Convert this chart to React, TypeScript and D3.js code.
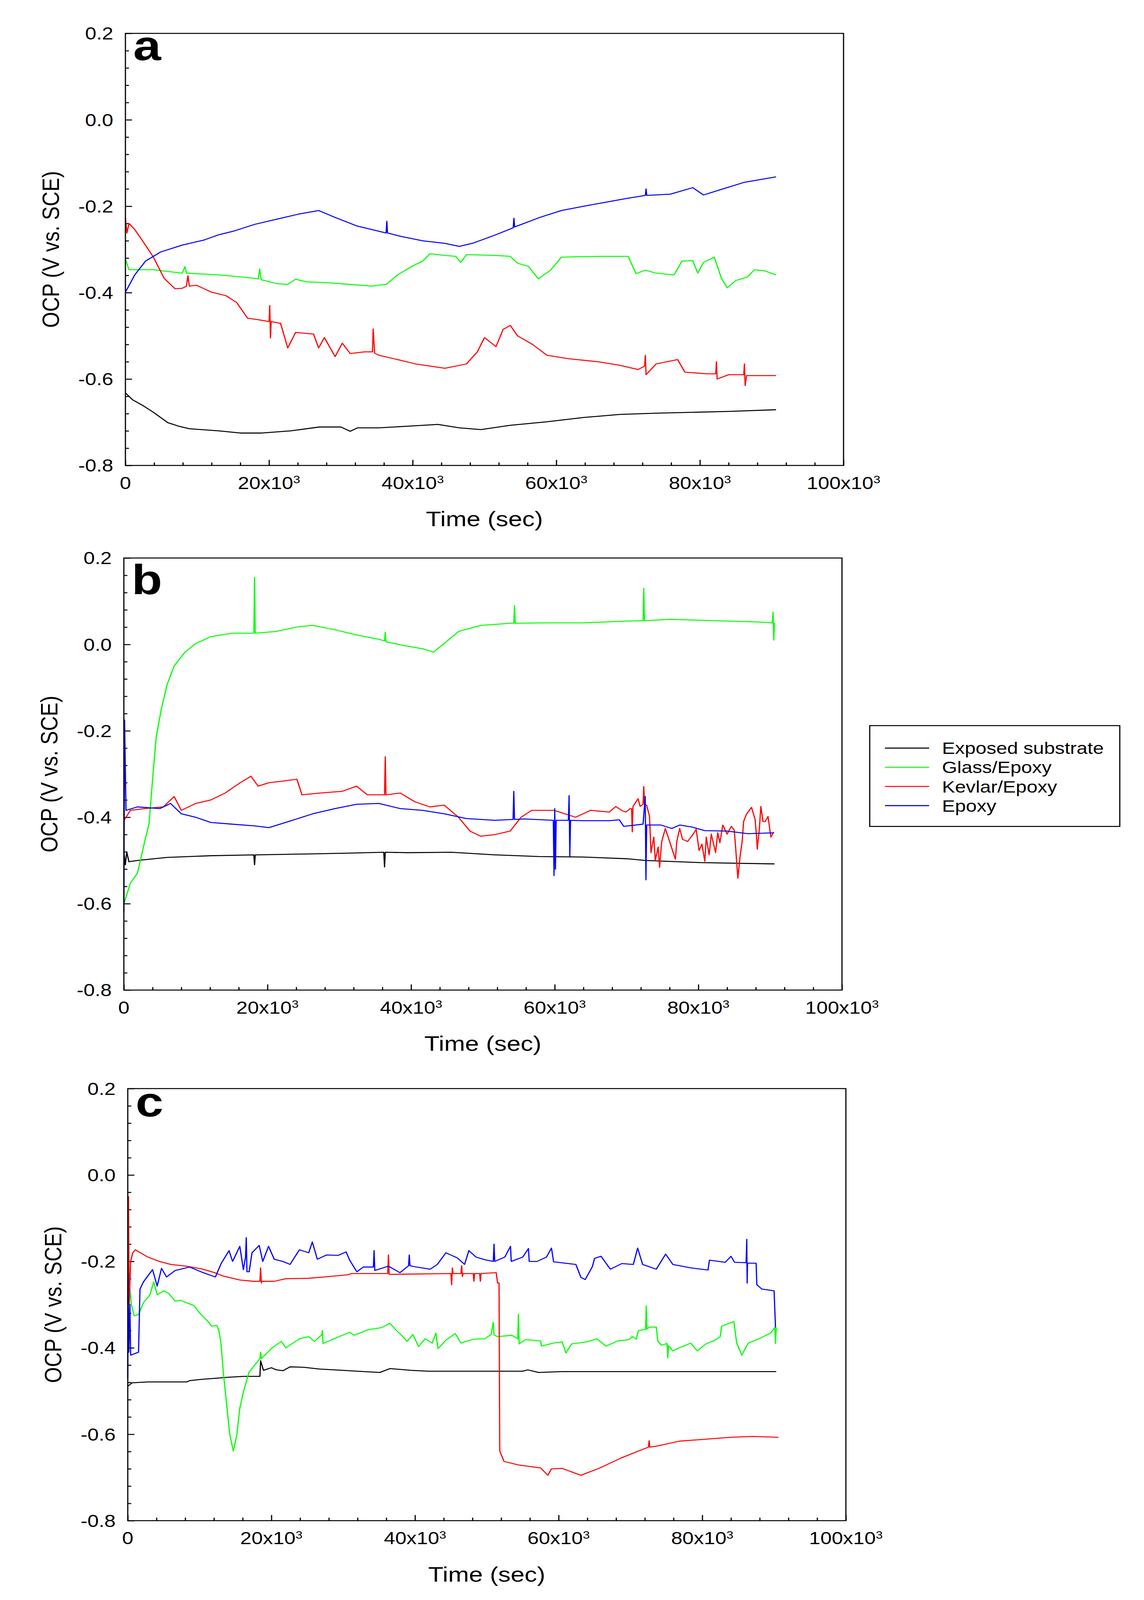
import * as React from 'react';
import * as d3 from 'd3';

type Pt = [number, number];

// time in 10^3 s, OCP in V vs. SCE
const legendLabels = ['Exposed substrate', 'Glass/Epoxy', 'Kevlar/Epoxy', 'Epoxy'];
const seriesColors = ['#000000', '#00ff00', '#ff0000', '#0000ff'];
const yMajorTicks = [0.2, 0, -0.2, -0.4, -0.6, -0.8];
const yTickLabels = ['0.2', '0.0', '-0.2', '-0.4', '-0.6', '-0.8'];
const xMajorTicks = [0, 20, 40, 60, 80, 100];

// panel a
const aExposed: Pt[] = [[0, -0.632], [1, -0.648], [2.5, -0.662], [3.9, -0.677], [5.9, -0.701], [7.4, -0.709], [8.9, -0.715], [13, -0.72], [16, -0.725], [19, -0.725], [23, -0.72], [27, -0.711], [30, -0.711], [31.3, -0.721], [32.3, -0.713], [35.3, -0.713], [39.4, -0.709], [43.5, -0.705], [46.5, -0.713], [49.5, -0.717], [53.6, -0.707], [58.7, -0.699], [63.8, -0.689], [68.8, -0.682], [73.9, -0.679], [79, -0.677], [84, -0.675], [90.6, -0.671]];
const aGlass: Pt[] = [[0, -0.323], [0.5, -0.347], [3.9, -0.347], [7.9, -0.355], [8.3, -0.34], [8.5, -0.355], [13, -0.359], [17, -0.365], [18.5, -0.368], [18.7, -0.345], [18.9, -0.37], [19.6, -0.373], [21, -0.379], [22.6, -0.381], [23.7, -0.369], [25.2, -0.375], [28.2, -0.377], [31.3, -0.381], [34.3, -0.385], [36.3, -0.381], [37.9, -0.359], [39.9, -0.339], [41.4, -0.327], [42.4, -0.31], [44.5, -0.314], [46, -0.316], [46.7, -0.33], [47.5, -0.312], [51.6, -0.314], [53.6, -0.316], [54.6, -0.332], [56.1, -0.339], [57.5, -0.368], [59.2, -0.348], [60.7, -0.318], [62.7, -0.317], [66.8, -0.316], [70, -0.316], [71.1, -0.356], [72.4, -0.348], [73.9, -0.355], [76.4, -0.359], [77.5, -0.327], [79, -0.326], [79.7, -0.355], [80.5, -0.33], [82, -0.318], [83, -0.367], [83.8, -0.389], [85, -0.372], [86.6, -0.364], [87.6, -0.347], [89.1, -0.35], [90.6, -0.359]];
const aKevlar: Pt[] = [[0, -0.226], [0.2, -0.262], [0.5, -0.24], [1.3, -0.254], [2.3, -0.278], [3.9, -0.318], [5.4, -0.367], [6.9, -0.391], [7.9, -0.39], [8.5, -0.385], [8.7, -0.361], [8.9, -0.385], [9.9, -0.383], [12, -0.399], [14, -0.407], [15.5, -0.423], [17, -0.459], [18.6, -0.463], [20, -0.467], [20.1, -0.43], [20.2, -0.505], [20.3, -0.467], [21.6, -0.471], [22.6, -0.528], [23.7, -0.492], [26.2, -0.496], [26.9, -0.528], [27.7, -0.504], [29.2, -0.548], [30.2, -0.517], [31.3, -0.541], [33.3, -0.537], [34.4, -0.537], [34.5, -0.484], [34.7, -0.54], [35.3, -0.545], [37.4, -0.553], [40.4, -0.565], [44.5, -0.575], [47.5, -0.565], [49, -0.537], [50, -0.504], [51.6, -0.525], [52.6, -0.485], [53.6, -0.476], [54.6, -0.5], [56.7, -0.52], [58.7, -0.545], [61.7, -0.553], [65.8, -0.56], [68.8, -0.568], [71.4, -0.578], [72.3, -0.57], [72.4, -0.545], [72.5, -0.59], [73.9, -0.565], [76.9, -0.555], [77.9, -0.584], [81, -0.588], [82.2, -0.588], [82.3, -0.56], [82.4, -0.6], [84, -0.59], [86.1, -0.59], [86.2, -0.565], [86.3, -0.615], [86.5, -0.592], [90.6, -0.592]];
const aEpoxy: Pt[] = [[0, -0.399], [1.3, -0.359], [2.8, -0.327], [4.9, -0.306], [7.9, -0.29], [11, -0.278], [13, -0.266], [15, -0.258], [18, -0.242], [21.1, -0.23], [24.2, -0.218], [26.9, -0.21], [29.2, -0.226], [32.3, -0.246], [35.3, -0.258], [36.3, -0.262], [36.4, -0.235], [36.5, -0.262], [38.4, -0.27], [41.4, -0.28], [44.5, -0.286], [46.5, -0.293], [48.5, -0.285], [51.6, -0.266], [54, -0.25], [54.1, -0.228], [54.2, -0.248], [57.7, -0.226], [60.7, -0.21], [63.8, -0.2], [66.8, -0.191], [69.8, -0.182], [72.4, -0.175], [72.5, -0.16], [72.6, -0.175], [75.9, -0.172], [79, -0.157], [80.5, -0.174], [83, -0.161], [86.1, -0.145], [90.6, -0.132]];

// panel b
const bExposed: Pt[] = [[0, -0.48], [0.2, -0.51], [0.4, -0.48], [0.7, -0.503], [1.9, -0.5], [6, -0.493], [12.1, -0.489], [18.1, -0.487], [18.2, -0.51], [18.3, -0.487], [25.3, -0.485], [31.4, -0.483], [36.2, -0.481], [36.3, -0.515], [36.4, -0.481], [39.5, -0.482], [45.6, -0.481], [51.7, -0.487], [57.8, -0.491], [63.9, -0.492], [70, -0.496], [72.6, -0.5], [80.3, -0.505], [90.6, -0.508]];
const bGlass: Pt[] = [[0, -0.601], [0.9, -0.553], [1.9, -0.529], [2.9, -0.456], [3.5, -0.416], [4, -0.312], [4.5, -0.215], [5.2, -0.151], [6, -0.094], [7, -0.05], [8.5, -0.018], [10, 0.002], [12.1, 0.018], [15.1, 0.026], [18.1, 0.026], [18.2, 0.155], [18.3, 0.026], [21.2, 0.03], [24.3, 0.041], [26.3, 0.044], [29.4, 0.034], [32.4, 0.022], [35.5, 0.012], [36.3, 0.008], [36.4, 0.028], [36.5, 0.006], [39.5, -0.004], [41.6, -0.01], [43.1, -0.018], [44.6, 0.002], [46.6, 0.03], [49.7, 0.044], [53.8, 0.049], [54.3, 0.049], [54.4, 0.09], [54.5, 0.049], [58.8, 0.05], [63.9, 0.05], [70, 0.054], [72.3, 0.055], [72.4, 0.13], [72.5, 0.055], [76.1, 0.058], [80.2, 0.056], [84.2, 0.054], [88.3, 0.052], [90.3, 0.05], [90.4, 0.075], [90.5, 0.01], [90.6, 0.05]];
const bKevlar: Pt[] = [[0, -0.408], [0.9, -0.384], [2.9, -0.38], [5.5, -0.376], [7, -0.352], [8, -0.384], [10, -0.368], [12.1, -0.36], [14.1, -0.344], [16.2, -0.32], [17.7, -0.305], [18.7, -0.328], [20.2, -0.32], [22.3, -0.316], [24.1, -0.312], [24.8, -0.348], [27.3, -0.344], [30.4, -0.34], [32.4, -0.328], [33.9, -0.348], [36.3, -0.348], [36.4, -0.26], [36.5, -0.348], [38.5, -0.344], [40.5, -0.364], [42.6, -0.376], [44.6, -0.372], [46.6, -0.4], [48.2, -0.432], [49.7, -0.444], [51.7, -0.44], [53.8, -0.432], [55.3, -0.4], [56.8, -0.384], [59.9, -0.384], [62.9, -0.4], [65, -0.384], [67.6, -0.388], [68.5, -0.375], [69.4, -0.385], [69.9, -0.388], [70.5, -0.38], [70.7, -0.38], [70.8, -0.434], [70.9, -0.375], [71.6, -0.357], [71.9, -0.375], [72.3, -0.37], [72.4, -0.329], [72.5, -0.37], [72.8, -0.372], [73.2, -0.398], [73.4, -0.482], [73.8, -0.446], [74, -0.5], [74.4, -0.469], [74.6, -0.516], [74.9, -0.456], [75.4, -0.426], [75.9, -0.451], [76.5, -0.482], [76.8, -0.497], [77, -0.456], [77.4, -0.426], [77.8, -0.451], [78.5, -0.456], [79.2, -0.441], [79.7, -0.428], [80.1, -0.477], [80.5, -0.462], [80.9, -0.502], [81.1, -0.446], [81.5, -0.487], [81.8, -0.439], [82.4, -0.482], [82.7, -0.436], [83, -0.459], [83.4, -0.418], [84, -0.439], [84.6, -0.421], [85, -0.43], [85.2, -0.472], [85.5, -0.541], [85.8, -0.492], [86.1, -0.456], [86.3, -0.41], [86.7, -0.393], [87.4, -0.377], [87.9, -0.405], [88.1, -0.444], [88.2, -0.474], [88.5, -0.426], [88.7, -0.375], [89, -0.41], [89.3, -0.41], [89.7, -0.398], [90.1, -0.446], [90.5, -0.434]];
const bEpoxy: Pt[] = [[0, -0.62], [0.1, -0.175], [0.3, -0.384], [1.9, -0.376], [5, -0.38], [6.5, -0.368], [8, -0.392], [10, -0.4], [12.1, -0.412], [15.1, -0.416], [18.2, -0.42], [20.2, -0.424], [23.3, -0.408], [26.3, -0.392], [29.4, -0.38], [32.4, -0.37], [35.5, -0.368], [38.5, -0.38], [41.6, -0.384], [44.6, -0.392], [47.7, -0.403], [51.7, -0.407], [54.2, -0.405], [54.3, -0.34], [54.4, -0.405], [55.8, -0.404], [59.8, -0.407], [59.9, -0.535], [60, -0.38], [60.1, -0.52], [60.2, -0.407], [61.9, -0.407], [62, -0.35], [62.1, -0.49], [62.2, -0.407], [63.9, -0.408], [67.6, -0.408], [69, -0.406], [69.6, -0.421], [72.3, -0.416], [72.6, -0.352], [72.7, -0.545], [72.8, -0.418], [74.8, -0.418], [76.3, -0.426], [77.4, -0.418], [79.2, -0.423], [80.9, -0.431], [84, -0.432], [86.9, -0.438], [90.5, -0.436]];

// panel c
const cExposed: Pt[] = [[0, -0.489], [0.6, -0.481], [2.8, -0.479], [8.2, -0.479], [8.6, -0.476], [10.2, -0.473], [11.8, -0.471], [14, -0.468], [16.2, -0.466], [18.4, -0.466], [18.5, -0.43], [18.9, -0.452], [20, -0.446], [20.7, -0.451], [21.6, -0.453], [22.6, -0.444], [24.5, -0.445], [26.7, -0.449], [29.9, -0.452], [31.9, -0.454], [35.1, -0.457], [36.5, -0.448], [39.4, -0.452], [41.8, -0.454], [55, -0.454], [55.7, -0.451], [57.2, -0.457], [60.5, -0.455], [90.3, -0.455]];
const cGlass: Pt[] = [[0, -0.269], [0.1, -0.229], [0.5, -0.3], [0.9, -0.326], [1.5, -0.323], [2.2, -0.295], [3.1, -0.277], [3.6, -0.247], [4.1, -0.277], [5, -0.268], [5.7, -0.274], [6.6, -0.292], [7.4, -0.29], [8.4, -0.297], [9.2, -0.302], [10.2, -0.323], [11.1, -0.338], [11.7, -0.35], [12.4, -0.348], [12.7, -0.361], [13, -0.392], [13.3, -0.456], [13.7, -0.52], [14.2, -0.6], [14.7, -0.639], [15.2, -0.6], [15.6, -0.54], [16.1, -0.502], [16.9, -0.456], [18.4, -0.425], [18.5, -0.41], [18.6, -0.425], [20.1, -0.4], [21.4, -0.385], [22, -0.4], [23.9, -0.379], [25.2, -0.374], [26, -0.385], [27, -0.37], [27.1, -0.36], [27.2, -0.39], [29, -0.377], [30.9, -0.364], [31.5, -0.371], [33.5, -0.358], [35.4, -0.353], [36.5, -0.343], [37.3, -0.358], [38.3, -0.374], [38.9, -0.385], [39.7, -0.369], [40.5, -0.397], [41.4, -0.379], [42.4, -0.389], [42.9, -0.366], [43.2, -0.402], [44.3, -0.382], [45.6, -0.367], [46.4, -0.389], [48.1, -0.38], [49.7, -0.379], [50.6, -0.369], [50.9, -0.341], [51, -0.37], [51.5, -0.374], [53.5, -0.371], [54.3, -0.379], [54.4, -0.322], [54.5, -0.391], [55.4, -0.381], [57.5, -0.384], [57.6, -0.396], [59.3, -0.389], [60.5, -0.386], [61, -0.412], [61.8, -0.391], [64, -0.386], [65.3, -0.379], [66.6, -0.396], [68.2, -0.384], [69.8, -0.381], [70.3, -0.374], [70.8, -0.38], [71.1, -0.36], [72.1, -0.357], [72.2, -0.303], [72.3, -0.357], [72.6, -0.352], [73.6, -0.352], [73.8, -0.384], [74.3, -0.394], [75.1, -0.39], [75.2, -0.423], [75.3, -0.395], [75.9, -0.407], [76.8, -0.4], [78.4, -0.389], [79.3, -0.407], [80.6, -0.39], [81.6, -0.384], [82.5, -0.374], [82.7, -0.35], [84.4, -0.339], [84.8, -0.389], [85.5, -0.417], [86.4, -0.389], [87.9, -0.379], [89.5, -0.366], [90.1, -0.353], [90.2, -0.39], [90.3, -0.353]];
const cKevlar: Pt[] = [[0, -0.3], [0.1, -0.05], [0.2, -0.3], [0.4, -0.2], [0.7, -0.18], [1.05, -0.173], [2.8, -0.19], [4.4, -0.2], [6, -0.207], [8.2, -0.211], [10.2, -0.217], [12.1, -0.226], [13.3, -0.234], [15.6, -0.243], [17.5, -0.246], [18.4, -0.246], [18.5, -0.215], [18.6, -0.25], [18.7, -0.246], [20.4, -0.246], [22, -0.24], [25.2, -0.239], [27.4, -0.236], [30.6, -0.231], [31.2, -0.228], [36.2, -0.228], [36.3, -0.185], [36.4, -0.23], [45, -0.228], [45.1, -0.254], [45.2, -0.215], [45.3, -0.228], [46.4, -0.228], [46.5, -0.21], [46.6, -0.235], [46.7, -0.228], [48.1, -0.228], [48.2, -0.246], [48.3, -0.228], [49, -0.228], [49.1, -0.246], [49.2, -0.228], [51.3, -0.226], [51.5, -0.25], [51.7, -0.25], [51.8, -0.639], [52.4, -0.663], [54.4, -0.671], [57.5, -0.678], [58.5, -0.695], [59, -0.68], [60.5, -0.679], [63.1, -0.695], [65.6, -0.679], [68.7, -0.655], [71.7, -0.635], [72.5, -0.63], [72.6, -0.615], [72.7, -0.63], [73.8, -0.627], [76.8, -0.616], [80.9, -0.611], [83.9, -0.607], [87, -0.605], [90.6, -0.607]];
const cEpoxy: Pt[] = [[0, -0.47], [0.05, -0.23], [0.15, -0.41], [0.3, -0.3], [0.4, -0.417], [1.5, -0.41], [1.7, -0.264], [2.2, -0.247], [3.45, -0.219], [4.1, -0.257], [4.7, -0.216], [5.4, -0.236], [6.6, -0.221], [8.6, -0.213], [10.5, -0.226], [12.2, -0.236], [13, -0.205], [14.1, -0.175], [14.6, -0.2], [15.6, -0.165], [16.1, -0.219], [16.4, -0.19], [16.5, -0.145], [16.6, -0.224], [16.9, -0.224], [17.3, -0.18], [18.3, -0.163], [18.8, -0.2], [19.6, -0.165], [20.4, -0.195], [21.6, -0.2], [22.6, -0.207], [23.9, -0.173], [25.2, -0.18], [25.7, -0.155], [26.4, -0.195], [27.7, -0.185], [29.3, -0.186], [30.4, -0.178], [30.9, -0.197], [31.9, -0.224], [32.8, -0.213], [34.2, -0.213], [34.3, -0.175], [34.4, -0.221], [36.3, -0.211], [37.9, -0.226], [39.1, -0.21], [39.2, -0.185], [39.3, -0.21], [40.2, -0.213], [42.1, -0.218], [43.1, -0.207], [44.3, -0.18], [45.9, -0.192], [46.9, -0.207], [47.5, -0.175], [48.5, -0.19], [49.7, -0.196], [50.9, -0.2], [51, -0.16], [51.1, -0.2], [52.5, -0.19], [53.3, -0.165], [53.4, -0.2], [55, -0.19], [55.8, -0.17], [55.9, -0.2], [57, -0.2], [58.3, -0.19], [59, -0.169], [59.3, -0.201], [62.4, -0.207], [63.1, -0.237], [63.7, -0.242], [64.7, -0.212], [65, -0.193], [65.9, -0.188], [67.2, -0.218], [68.8, -0.205], [70.4, -0.207], [71, -0.169], [71.7, -0.207], [73.6, -0.218], [74.9, -0.183], [75.9, -0.207], [78.4, -0.215], [80.8, -0.22], [81, -0.197], [83.2, -0.202], [84, -0.188], [84.5, -0.202], [86.1, -0.203], [86.2, -0.149], [86.25, -0.25], [86.3, -0.204], [87.5, -0.204], [87.6, -0.254], [88.3, -0.264], [90, -0.268], [90.2, -0.353]];

const W = 2928;
const H = 4840;
const PLOT_W = 1838;
const PLOT_H = 1307;

const panels = [
  { letter: 'a', left: 321, top: 101, letterDy: 81, series: [aExposed, aGlass, aKevlar, aEpoxy] },
  { letter: 'b', left: 317, top: 1688, letterDy: 109, series: [bExposed, bGlass, bKevlar, bEpoxy] },
  { letter: 'c', left: 327, top: 3293, letterDy: 84, series: [cExposed, cGlass, cKevlar, cEpoxy] },
];

const FONT = 'Arial, "Liberation Sans", sans-serif';

export default function App() {
  const ref = React.useRef<SVGSVGElement>(null);

  React.useEffect(() => {
    document.body.style.margin = '0';
    document.body.style.overflow = 'hidden';
    const svg = d3.select(ref.current);
    svg.selectAll('*').remove();

    const x = d3.scaleLinear().domain([0, 100]).range([0, PLOT_W]);
    const y = d3.scaleLinear().domain([-0.8, 0.2]).range([PLOT_H, 0]);
    const xMinor = d3.range(0, 100.01, 4).filter(v => v % 20 !== 0);
    const yMinor = d3.range(-0.8, 0.2001, 0.04).filter(v => Math.abs(Math.round(v * 5) - v * 5) > 1e-6);

    const line = d3.line<Pt>().x(d => x(d[0])).y(d => y(d[1]));

    svg.append('rect').attr('width', W).attr('height', H).attr('fill', '#fff');

    panels.forEach(p => {
      const g = svg.append('g').attr('transform', `translate(${p.left},${p.top})`);

      // ticks pointing inward, labels drawn separately
      const addAxis = (axis: d3.Axis<d3.NumberValue>, tx: number, ty: number) => {
        const ag = g.append('g').attr('transform', `translate(${tx},${ty})`).call(axis);
        ag.select('.domain').remove();
        ag.selectAll('line').attr('stroke', '#000').attr('stroke-width', 3);
        ag.selectAll('text').remove();
      };
      addAxis(d3.axisBottom(x).tickValues(xMinor).tickSize(-9).tickFormat(() => ''), 0, PLOT_H);
      addAxis(d3.axisBottom(x).tickValues(xMajorTicks).tickSize(-17).tickFormat(() => ''), 0, PLOT_H);
      addAxis(d3.axisLeft(y).tickValues(yMinor).tickSize(-9).tickFormat(() => ''), 0, 0);
      addAxis(d3.axisLeft(y).tickValues(yMajorTicks).tickSize(-17).tickFormat(() => ''), 0, 0);

      p.series.forEach((s, i) => {
        g.append('path')
          .datum(s)
          .attr('d', line)
          .attr('fill', 'none')
          .attr('stroke', seriesColors[i])
          .attr('stroke-width', 3)
          .attr('stroke-linejoin', 'round');
      });

      g.append('rect')
        .attr('width', PLOT_W)
        .attr('height', PLOT_H)
        .attr('fill', 'none')
        .attr('stroke', '#000')
        .attr('stroke-width', 3);

      xMajorTicks.forEach(v => {
        const t = g.append('text')
          .attr('x', x(v))
          .attr('y', PLOT_H + 71)
          .attr('text-anchor', 'middle')
          .style('font-family', FONT)
          .style('font-size', '52px');
        if (v === 0) {
          t.text('0');
        } else {
          t.append('tspan').text(`${v}x10`);
          t.append('tspan').attr('dy', -17).style('font-size', '32px').text('3');
        }
      });

      yMajorTicks.forEach((v, i) => {
        g.append('text')
          .attr('x', -31)
          .attr('y', y(v))
          .attr('dy', '0.36em')
          .attr('text-anchor', 'end')
          .style('font-family', FONT)
          .style('font-size', '52px')
          .text(yTickLabels[i]);
      });

      g.append('text')
        .attr('x', PLOT_W / 2)
        .attr('y', PLOT_H + 184)
        .attr('text-anchor', 'middle')
        .style('font-family', FONT)
        .style('font-size', '64px')
        .text('Time (sec)');
      g.append('text')
        .attr('transform', `translate(-170,${PLOT_H / 2}) rotate(-90)`)
        .attr('text-anchor', 'middle')
        .style('font-family', FONT)
        .style('font-size', '62px')
        .text('OCP (V vs. SCE)');

      g.append('text')
        .attr('x', 20)
        .attr('y', p.letterDy)
        .style('font-family', FONT)
        .style('font-size', '128px')
        .style('font-weight', 'bold')
        .text(p.letter);
    });

    // legend
    const lg = svg.append('g').attr('transform', 'translate(2226,2195)');
    lg.append('rect')
      .attr('width', 640)
      .attr('height', 305)
      .attr('fill', '#fff')
      .attr('stroke', '#000')
      .attr('stroke-width', 3);
    legendLabels.forEach((name, i) => {
      const ly = 68 + i * 58;
      lg.append('line')
        .attr('x1', 39).attr('x2', 152)
        .attr('y1', ly).attr('y2', ly)
        .attr('stroke', seriesColors[i])
        .attr('stroke-width', 3);
      lg.append('text')
        .attr('x', 185)
        .attr('y', ly)
        .attr('dy', '0.36em')
        .style('font-family', FONT)
        .style('font-size', '50px')
        .text(name);
    });
  }, []);

  // the drawing is laid out on the 2928x4840 page and fitted to the window
  return (
    <svg
      ref={ref}
      viewBox={`0 0 ${W} ${H}`}
      preserveAspectRatio="none"
      style={{ display: 'block', width: '100vw', height: '100vh', background: '#fff' }}
    />
  );
}
